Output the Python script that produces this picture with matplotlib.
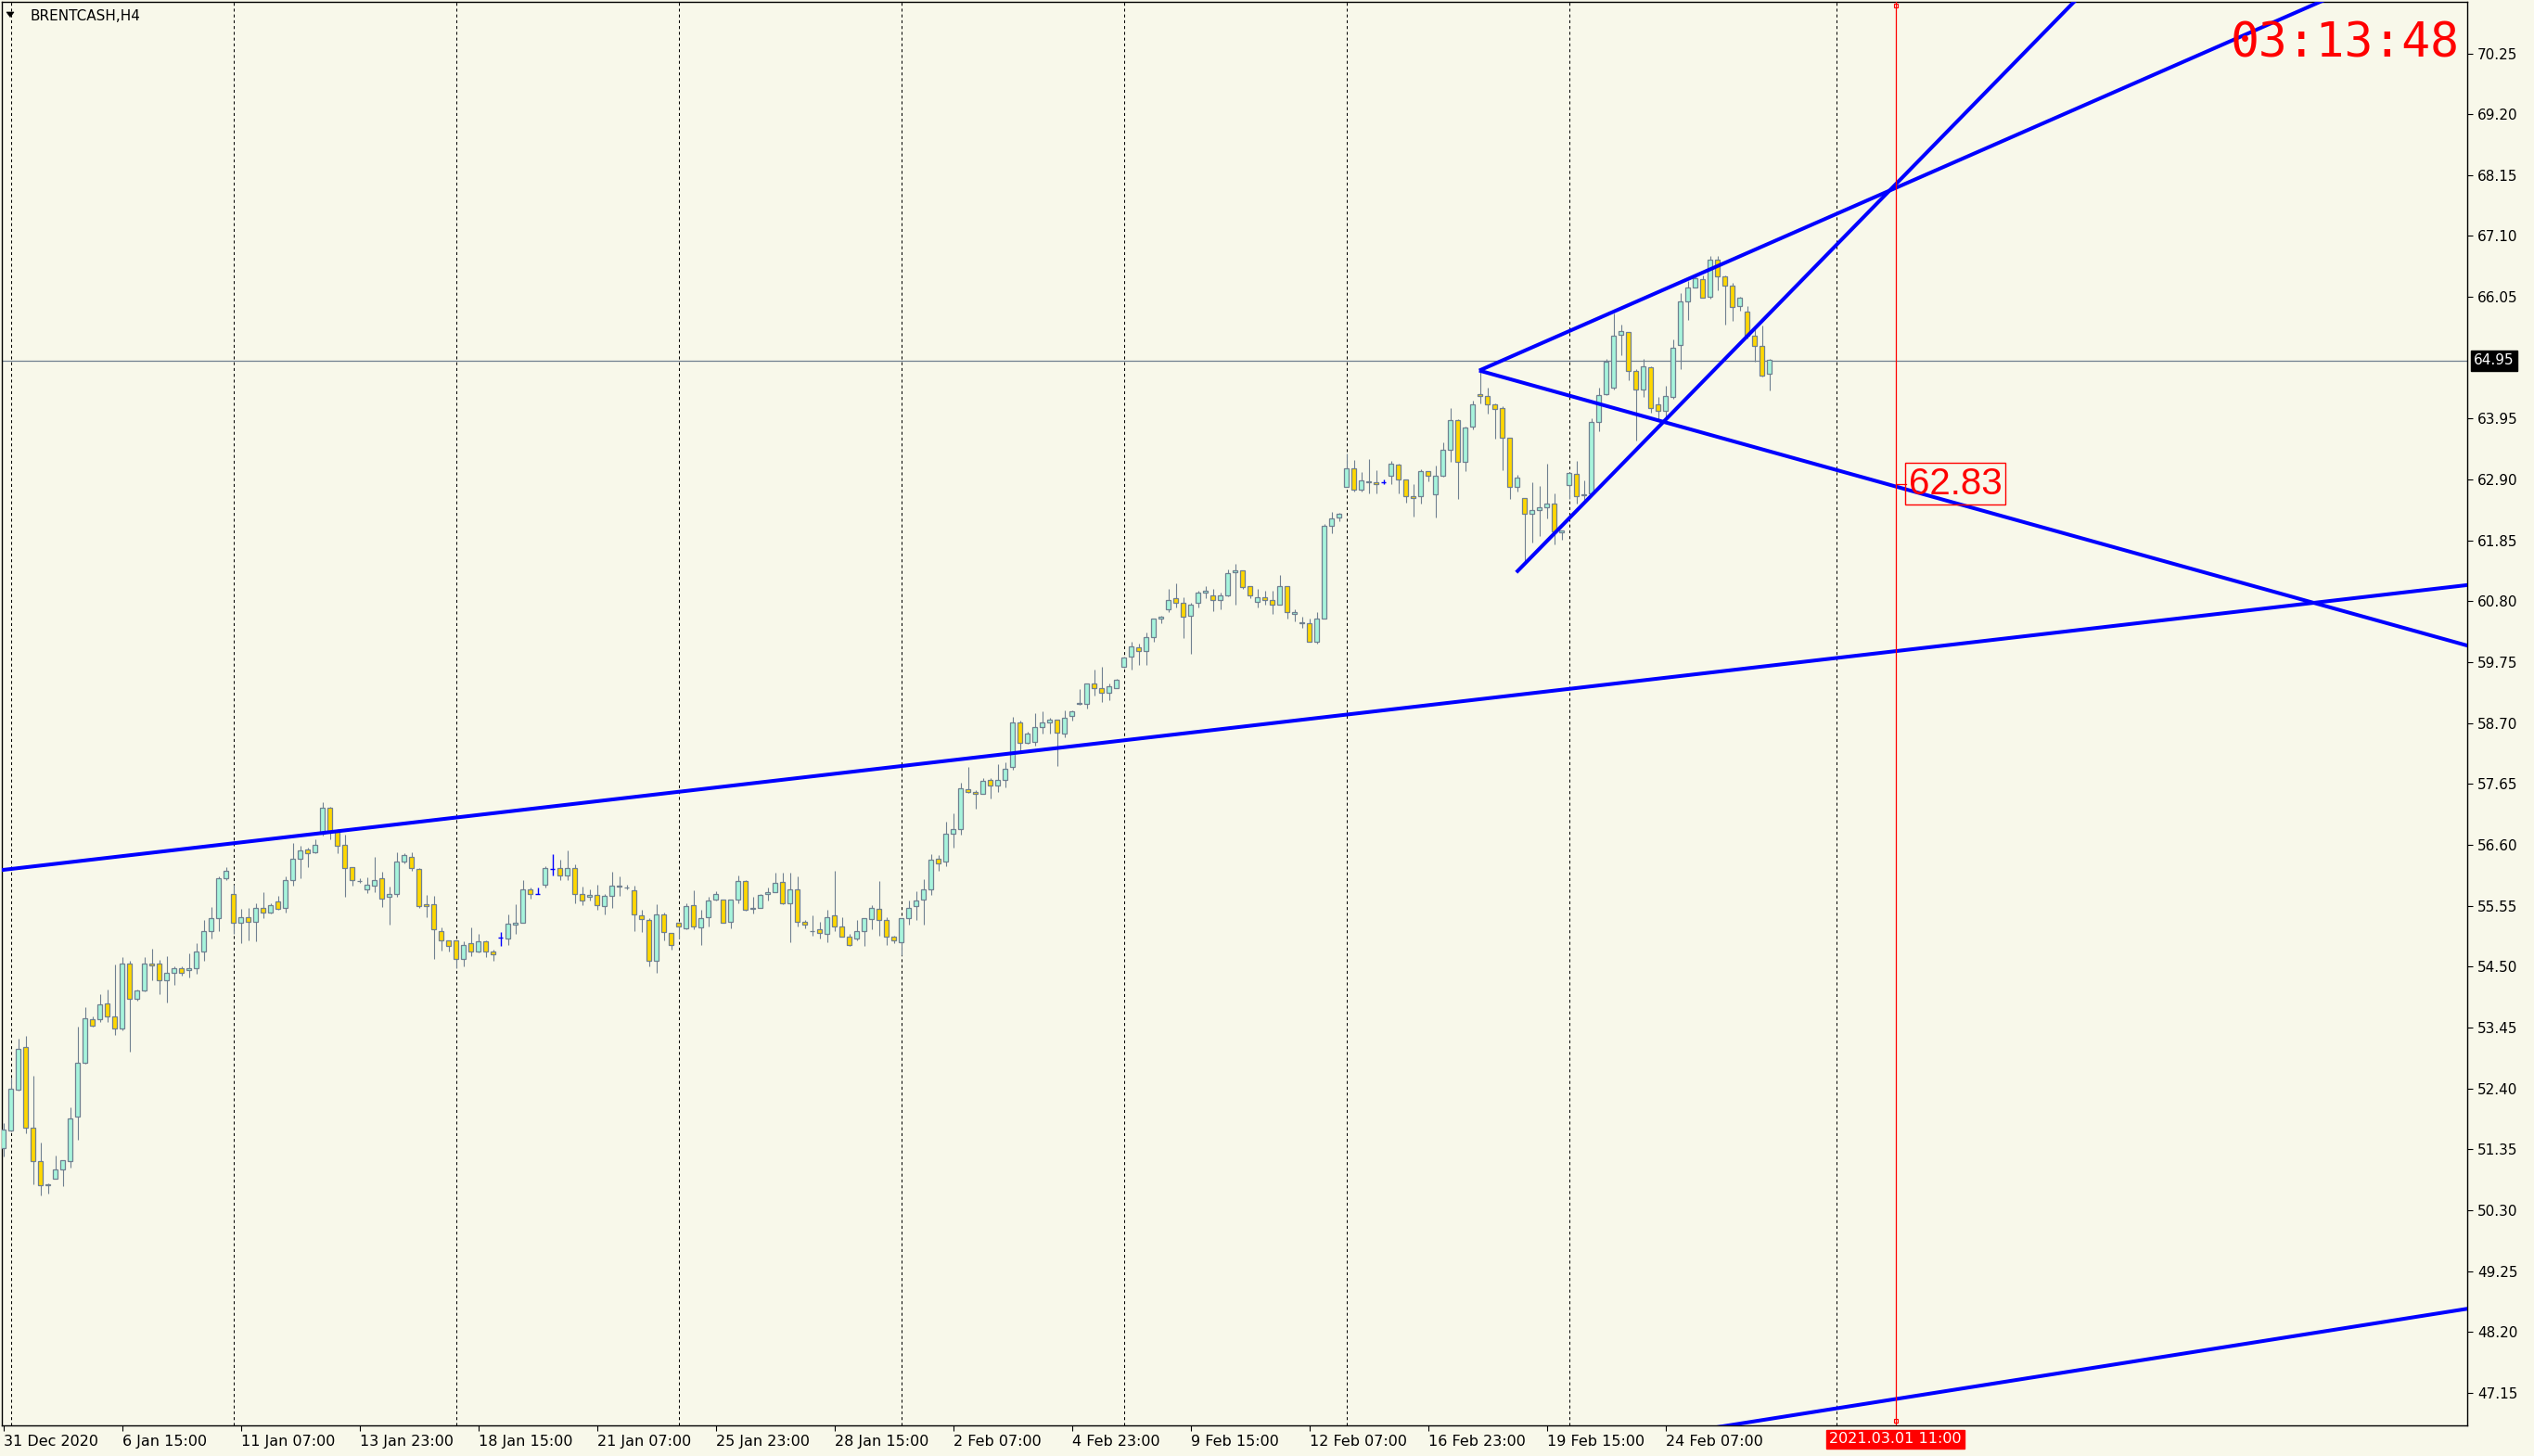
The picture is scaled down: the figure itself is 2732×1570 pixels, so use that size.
import matplotlib
matplotlib.use('Agg')
import matplotlib.pyplot as plt
import matplotlib.transforms as mtransforms
import matplotlib.patches as mpatches
import numpy as np

# ---------------- data ----------------
symbol = 'BRENTCASH,H4'
clock_text = '03:13:48'

opens = [51.37, 51.67, 52.38, 53.11, 51.73, 51.14, 50.73, 50.84, 51.01, 51.14,
         51.91, 52.85, 53.59, 53.60, 53.86, 53.64, 53.43, 54.56, 53.94, 54.09,
         54.56, 54.55, 54.26, 54.40, 54.48, 54.45, 54.48, 54.76, 55.12, 55.33,
         56.03, 55.76, 55.25, 55.36, 55.27, 55.52, 55.44, 55.62, 55.51, 56.00,
         56.36, 56.52, 56.47, 56.80, 57.24, 56.82, 56.60, 56.21, 55.97, 55.84,
         55.89, 56.02, 55.70, 55.76, 56.32, 56.40, 56.18, 55.57, 55.57, 55.12,
         54.95, 54.95, 54.63, 54.90, 54.76, 54.93, 54.76, 55.00, 54.98, 55.22,
         55.26, 55.83, 55.76, 55.92, 56.18, 56.20, 56.08, 56.20, 55.76, 55.70,
         55.73, 55.54, 55.72, 55.89, 55.87, 55.81, 55.38, 55.30, 54.61, 55.40,
         55.08, 55.25, 55.16, 55.56, 55.17, 55.35, 55.65, 55.65, 55.27, 55.65,
         55.97, 55.49, 55.52, 55.76, 55.78, 55.96, 55.60, 55.84, 55.28, 55.12,
         55.14, 55.06, 55.38, 55.20, 55.01, 54.98, 55.11, 55.32, 55.49, 55.30,
         55.01, 54.92, 55.33, 55.54, 55.65, 55.84, 56.36, 56.31, 56.80, 56.88,
         57.56, 57.51, 57.48, 57.72, 57.63, 57.72, 57.94, 58.71, 58.36, 58.37,
         58.63, 58.72, 58.76, 58.52, 58.82, 59.03, 59.03, 59.38, 59.31, 59.23,
         59.31, 59.67, 59.84, 60.00, 59.95, 60.18, 60.50, 60.66, 60.85, 60.77,
         60.55, 60.77, 60.95, 60.90, 60.82, 60.90, 61.30, 61.33, 61.06, 60.79,
         60.87, 60.83, 60.75, 61.06, 60.58, 60.44, 60.42, 60.11, 60.51, 62.11,
         62.24, 62.78, 63.09, 62.72, 62.85, 62.85, 62.85, 62.96, 63.15, 62.90,
         62.61, 62.61, 63.04, 62.64, 62.96, 63.41, 63.92, 63.20, 63.81, 64.37,
         64.34, 64.19, 64.13, 63.62, 62.77, 62.58, 62.31, 62.37, 62.43, 62.48,
         61.99, 62.80, 62.99, 62.63, 62.66, 63.89, 64.37, 64.48, 65.39, 65.44,
         64.77, 64.45, 64.83, 64.19, 64.08, 64.32, 65.22, 65.98, 66.22, 66.35,
         66.05, 66.69, 66.40, 66.24, 65.89, 65.79, 65.38, 65.20, 64.72]
highs = [51.81, 52.59, 53.26, 53.31, 52.62, 51.47, 50.76, 51.24, 51.16, 52.08,
         53.46, 53.81, 53.65, 54.03, 54.11, 54.54, 54.66, 54.60, 54.11, 54.67,
         54.81, 54.62, 54.68, 54.50, 54.50, 54.73, 54.90, 55.30, 55.53, 56.05,
         56.22, 55.91, 55.50, 55.51, 55.60, 55.79, 55.59, 55.72, 56.05, 56.64,
         56.59, 56.56, 56.69, 57.34, 57.26, 56.88, 56.77, 56.21, 56.02, 56.04,
         56.39, 56.14, 55.88, 56.48, 56.46, 56.47, 56.20, 55.73, 55.72, 55.18,
         54.95, 54.95, 54.93, 55.17, 55.06, 54.95, 54.79, 55.09, 55.40, 55.57,
         56.00, 55.86, 55.86, 56.24, 56.44, 56.34, 56.50, 56.26, 55.88, 55.84,
         55.92, 55.76, 56.13, 56.05, 55.92, 55.89, 55.48, 55.33, 55.57, 55.44,
         55.08, 55.28, 55.60, 55.81, 55.48, 55.70, 55.80, 55.65, 55.65, 56.07,
         56.00, 55.70, 55.76, 55.86, 56.12, 56.12, 56.12, 56.05, 55.30, 55.38,
         55.28, 55.48, 56.16, 55.36, 55.06, 55.30, 55.33, 55.56, 55.98, 55.35,
         55.04, 55.33, 55.64, 55.80, 56.01, 56.44, 56.42, 57.00, 57.15, 57.67,
         57.94, 57.54, 57.76, 57.76, 57.99, 58.02, 58.81, 58.74, 58.55, 58.87,
         58.90, 58.79, 58.76, 58.92, 58.92, 59.29, 59.39, 59.62, 59.67, 59.39,
         59.46, 59.84, 60.11, 60.07, 60.26, 60.50, 60.55, 61.01, 61.11, 60.87,
         60.77, 60.99, 61.06, 61.01, 60.95, 61.35, 61.44, 61.33, 61.06, 61.01,
         60.98, 60.98, 61.25, 61.07, 60.66, 60.53, 60.51, 60.61, 62.13, 62.34,
         62.32, 63.35, 63.23, 63.03, 63.25, 63.06, 62.90, 63.22, 63.17, 62.90,
         62.82, 63.07, 63.04, 63.14, 63.54, 64.14, 63.94, 63.82, 64.26, 64.80,
         64.48, 64.21, 64.16, 63.62, 62.98, 62.58, 62.85, 62.79, 63.17, 62.66,
         62.02, 63.01, 63.22, 62.88, 63.95, 64.48, 64.98, 65.76, 65.57, 65.44,
         64.80, 64.98, 64.86, 64.32, 64.51, 65.31, 66.11, 66.32, 66.44, 66.42,
         66.75, 66.75, 66.42, 66.30, 66.06, 65.90, 65.55, 65.55, 64.98]
lows = [51.22, 51.66, 52.36, 51.63, 50.74, 50.56, 50.59, 50.84, 50.71, 51.03,
        51.51, 52.82, 53.46, 53.54, 53.54, 53.33, 53.41, 53.04, 53.92, 54.08,
        54.27, 54.02, 53.89, 54.18, 54.34, 54.32, 54.38, 54.61, 54.98, 55.12,
        56.00, 55.07, 54.90, 54.96, 54.94, 55.33, 55.41, 55.48, 55.44, 55.89,
        56.02, 56.21, 56.45, 56.76, 56.69, 56.45, 55.71, 55.89, 55.94, 55.77,
        55.79, 55.53, 55.22, 55.70, 56.28, 56.15, 55.52, 55.36, 54.64, 54.78,
        54.77, 54.48, 54.50, 54.69, 54.74, 54.66, 54.61, 54.86, 54.88, 55.06,
        55.25, 55.67, 55.76, 55.87, 56.08, 56.00, 56.00, 55.60, 55.56, 55.64,
        55.48, 55.40, 55.52, 55.72, 55.83, 55.12, 55.09, 54.50, 54.39, 54.96,
        54.80, 54.98, 55.14, 55.14, 54.88, 55.20, 55.64, 55.25, 55.16, 55.60,
        55.46, 55.41, 55.51, 55.64, 55.78, 55.57, 54.92, 55.19, 55.16, 55.04,
        54.98, 54.92, 55.11, 55.01, 54.85, 54.96, 54.85, 55.14, 55.04, 54.87,
        54.90, 54.70, 55.23, 55.30, 55.22, 55.73, 56.16, 56.24, 56.56, 56.77,
        57.49, 57.22, 57.48, 57.40, 57.51, 57.59, 57.89, 58.22, 58.34, 58.32,
        58.52, 58.52, 57.96, 58.45, 58.74, 59.01, 58.95, 59.18, 59.06, 59.09,
        59.31, 59.65, 59.63, 59.71, 59.70, 60.11, 60.43, 60.61, 60.69, 60.16,
        59.89, 60.69, 60.85, 60.63, 60.66, 60.88, 60.74, 61.01, 60.85, 60.69,
        60.74, 60.58, 60.75, 60.51, 60.45, 60.35, 60.11, 60.07, 60.51, 61.97,
        62.19, 62.78, 62.69, 62.69, 62.66, 62.66, 62.82, 62.82, 62.66, 62.50,
        62.26, 62.48, 62.87, 62.24, 62.95, 63.20, 62.56, 63.04, 63.76, 64.21,
        64.03, 63.60, 63.06, 62.56, 62.69, 61.47, 61.81, 61.92, 62.23, 61.78,
        61.87, 62.56, 62.48, 62.53, 62.64, 63.73, 64.35, 64.45, 65.04, 64.61,
        63.58, 64.32, 64.05, 63.94, 63.94, 64.30, 64.80, 65.66, 66.21, 66.03,
        66.02, 66.16, 65.57, 65.63, 65.82, 65.34, 64.94, 64.67, 64.43]
closes = [51.69, 52.39, 53.09, 51.73, 51.14, 50.73, 50.75, 51.00, 51.16, 51.89,
          52.85, 53.61, 53.49, 53.85, 53.65, 53.43, 54.56, 53.95, 54.09, 54.56,
          54.53, 54.26, 54.40, 54.47, 54.39, 54.48, 54.77, 55.12, 55.33, 56.02,
          56.16, 55.25, 55.35, 55.27, 55.51, 55.44, 55.56, 55.49, 55.99, 56.36,
          56.50, 56.45, 56.60, 57.24, 56.82, 56.58, 56.20, 55.99, 55.98, 55.91,
          56.00, 55.68, 55.76, 56.32, 56.42, 56.20, 55.54, 55.55, 55.14, 54.96,
          54.85, 54.64, 54.88, 54.77, 54.93, 54.77, 54.72, 55.00, 55.24, 55.25,
          55.84, 55.76, 55.76, 56.20, 56.18, 56.08, 56.20, 55.76, 55.64, 55.73,
          55.56, 55.72, 55.89, 55.88, 55.86, 55.40, 55.32, 54.61, 55.40, 55.09,
          54.88, 55.19, 55.54, 55.19, 55.33, 55.64, 55.76, 55.25, 55.65, 55.97,
          55.48, 55.52, 55.73, 55.78, 55.94, 55.60, 55.84, 55.28, 55.22, 55.11,
          55.08, 55.36, 55.20, 55.01, 54.87, 55.12, 55.33, 55.51, 55.30, 55.01,
          54.96, 55.33, 55.52, 55.64, 55.84, 56.34, 56.28, 56.80, 56.87, 57.57,
          57.52, 57.48, 57.70, 57.62, 57.72, 57.92, 58.72, 58.36, 58.52, 58.63,
          58.72, 58.76, 58.53, 58.80, 58.90, 59.04, 59.38, 59.31, 59.23, 59.33,
          59.44, 59.83, 60.02, 59.94, 60.19, 60.50, 60.53, 60.82, 60.77, 60.53,
          60.75, 60.95, 60.98, 60.83, 60.91, 61.28, 61.33, 61.04, 60.90, 60.87,
          60.82, 60.74, 61.06, 60.61, 60.61, 60.43, 60.11, 60.51, 62.10, 62.23,
          62.31, 63.09, 62.72, 62.88, 62.87, 62.83, 62.85, 63.17, 62.91, 62.61,
          62.59, 63.04, 62.96, 62.96, 63.41, 63.92, 63.20, 63.79, 64.19, 64.34,
          64.19, 64.11, 63.62, 62.77, 62.93, 62.31, 62.37, 62.42, 62.48, 62.00,
          62.02, 63.01, 62.61, 62.64, 63.90, 64.35, 64.94, 65.38, 65.46, 64.77,
          64.45, 64.85, 64.14, 64.08, 64.34, 65.18, 65.98, 66.21, 66.38, 66.03,
          66.70, 66.40, 66.24, 65.87, 66.03, 65.38, 65.20, 64.70, 64.96]

# date labels (bar index -> text)
tick_bars = [0, 16, 32, 48, 64, 80, 96, 112, 128, 144, 160, 176, 192, 208, 224]
tick_labels = ['31 Dec 2020', '6 Jan 15:00', '11 Jan 07:00', '13 Jan 23:00',
               '18 Jan 15:00', '21 Jan 07:00', '25 Jan 23:00', '28 Jan 15:00',
               '2 Feb 07:00', '4 Feb 23:00', '9 Feb 15:00', '12 Feb 07:00',
               '16 Feb 23:00', '19 Feb 15:00', '24 Feb 07:00']
price_ticks = [47.15, 48.20, 49.25, 50.30, 51.35, 52.40, 53.45, 54.50, 55.55,
               56.60, 57.65, 58.70, 59.75, 60.80, 61.85, 62.90, 63.95, 66.05,
               67.10, 68.15, 69.20, 70.25]
week_grid_bars = [1, 31, 61, 91, 121, 151, 181, 211, 247]
current_price = 64.95
marker_bar = 255
marker_label = '2021.03.01 11:00'
level_value = 62.83
level_label = '62.83'

# trend lines: (bar0, price0, bar1, price1, infinite both ways?)
trend_x0 = [0.0, 232.5, 198.9, 198.9, 203.9]
trend_p0 = [56.17, 46.59, 64.78, 64.78, 61.30]
trend_x1 = [332.0, 332.0, 332.0, 297.1, 240.8]
trend_p1 = [61.08, 48.60, 60.04, 70.29, 66.13]
trend_both = [True, True, False, False, False]

# ---------------- style ----------------
W, H = 2732, 1570
BG = '#F8F8EA'
BULL = '#A6F4DC'
BEAR = '#FFD700'
EDGE = '#708090'
BLUE = '#0000FF'

plt.rcParams['font.family'] = ['DejaVu Sans']

fig = plt.figure(figsize=(W / 100, H / 100), dpi=100)
fig.patch.set_facecolor(BG)
ax = fig.add_axes([2 / W, 33 / H, 2658 / W, 1535 / H])
ax.set_facecolor(BG)
ax.set_xlim(-0.2, 332.05)
ax.set_ylim(46.59, 71.138)

x = np.arange(len(opens))
o = np.array(opens); c = np.array(closes)
h = np.array(highs); l = np.array(lows)
up = c > o
dn = c < o
dj = c == o

# week separators
for gb in week_grid_bars:
    ax.axvline(gb, color='black', lw=0.75, ls=(0, (3, 3)), zorder=1)

# current price line
ax.axhline(current_price, color=EDGE, lw=0.9, zorder=1.5)

# candles
ax.vlines(x[~dj], l[~dj], h[~dj], color=EDGE, lw=0.8, zorder=2)
bottom = np.minimum(o, c)
height = np.maximum(np.abs(c - o), 0.004)
ax.bar(x[up], height[up], bottom=bottom[up], width=0.6, color=BULL,
       edgecolor=EDGE, linewidth=0.9, zorder=3)
ax.bar(x[dn], height[dn], bottom=bottom[dn], width=0.6, color=BEAR,
       edgecolor=EDGE, linewidth=0.9, zorder=3)
ax.vlines(x[dj], l[dj], h[dj], color=BLUE, lw=1.0, zorder=3)
ax.hlines(o[dj], x[dj] - 0.35, x[dj] + 0.35, color=BLUE, lw=1.0, zorder=3)

# trend lines
for x0, p0, x1, p1, both in zip(trend_x0, trend_p0, trend_x1, trend_p1, trend_both):
    s = (p1 - p0) / (x1 - x0)
    xa = -10 if both else x0
    xb = 345
    ax.plot([xa, xb], [p0 + s * (xa - x0), p0 + s * (xb - x0)], color=BLUE,
            lw=2.9, solid_capstyle='butt', zorder=5)

# vertical marker line
ax.axvline(marker_bar, color='red', lw=0.9, zorder=6)
bl = mtransforms.blended_transform_factory(ax.transData, ax.transAxes)
ax.plot([marker_bar, marker_bar], [0.0035, 0.9975], ls='none', marker='s', ms=3,
        mfc='none', mec='red', mew=0.8, transform=bl, clip_on=False, zorder=6)

# level label
ax.plot([marker_bar, marker_bar + 1.4], [level_value, level_value], color='red',
        lw=0.9, zorder=6)
ax.text(marker_bar + 1.75, level_value, level_label, fontsize=29, color='red',
        family='Liberation Sans', ha='left', va='center', zorder=7,
        bbox=dict(boxstyle='square,pad=0.08', fc='none', ec='red', lw=1.0))

# axes / ticks
for sp in ax.spines.values():
    sp.set_color('black')
    sp.set_linewidth(1.0)
ax.yaxis.tick_right()
ax.set_yticks(price_ticks)
ax.set_yticklabels(['%.2f' % v for v in price_ticks])
ax.tick_params(axis='y', direction='out', length=4, width=0.8, pad=4,
               labelsize=11, colors='black')
ax.set_xticks(tick_bars)
ax.set_xticklabels(tick_labels)
for lbl in ax.get_xticklabels():
    lbl.set_horizontalalignment('left')
ax.tick_params(axis='x', direction='out', length=4, width=0.8, pad=3,
               labelsize=11.5, colors='black')

# current price tag
br = mtransforms.blended_transform_factory(ax.transAxes, ax.transData)
ax.text(1 + 7 / 2658, current_price, '%.2f' % current_price, transform=br,
        fontsize=11, color='white', ha='left', va='center', zorder=8,
        bbox=dict(boxstyle='square,pad=0.22', fc='black', ec='black'))

# date tag
ax.text(marker_bar, -15 / 1535, marker_label, transform=bl, fontsize=11.5,
        color='white', ha='center', va='center', zorder=8,
        bbox=dict(boxstyle='square,pad=0.18', fc='red', ec='red'))

# header and clock
fig.text(32 / W, 1 - 17 / H, symbol, fontsize=11, color='black',
         ha='left', va='center')
tri = mpatches.Polygon([[7 / W, 1 - 13 / H], [15 / W, 1 - 13 / H], [11 / W, 1 - 18.5 / H]],
                       closed=True, transform=fig.transFigure, fc='black', ec='black', lw=0.5)
fig.patches.append(tri)
fig.text(2652 / W, 1 - 61 / H, clock_text, fontsize=37, color='red',
         family='DejaVu Sans Mono', ha='right', va='baseline')

fig.savefig('out.png', dpi=100, facecolor=BG)
